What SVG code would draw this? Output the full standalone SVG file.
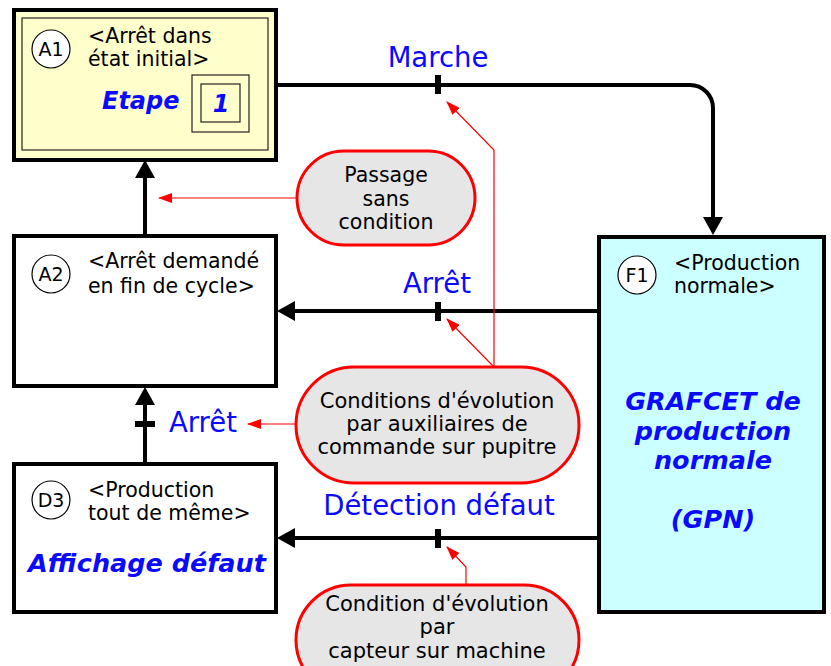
<svg xmlns="http://www.w3.org/2000/svg" width="831" height="666" viewBox="0 0 831 666">
  <style>
    .box { stroke: #000; stroke-width: 4; }
    .thin { fill: none; stroke: #222; stroke-width: 1.2; }
    .tag { fill: #fff; stroke: #000; stroke-width: 1.2; }
    .tagtxt { font-family: "DejaVu Sans", sans-serif; font-size: 19px; fill: #000; text-anchor: middle; }
    .txt { font-family: "DejaVu Sans", sans-serif; font-size: 20.5px; fill: #000; }
    .ctr { text-anchor: middle; }
    .act { font-family: "DejaVu Sans", sans-serif; font-size: 25.5px; font-weight: bold; font-style: italic; fill: #0a0aff; }
    .rec { font-family: "DejaVu Sans", sans-serif; font-size: 27.5px; fill: #0a0aff; text-anchor: middle; }
    .link { fill: none; stroke: #000; stroke-width: 4; }
    .bar { fill: #000; }
    .bubble { fill: #e6e6e6; stroke: #ff0000; stroke-width: 3; }
    .pointer { fill: none; stroke: #ff0000; stroke-width: 1.2; }
  </style>
  <defs>
    <marker id="arrow" viewBox="0 0 18 20" markerWidth="18" markerHeight="20" refX="8" refY="10" orient="auto" markerUnits="userSpaceOnUse">
      <path d="M0,0 L18,10 L0,20 z" fill="#000"/>
    </marker>
    <marker id="redArrow" viewBox="0 0 14 10" markerWidth="14" markerHeight="10" refX="13" refY="5" orient="auto" markerUnits="userSpaceOnUse">
      <path d="M0,0 L14,5 L0,10 z" fill="#ff0000"/>
    </marker>
  </defs>

  <!-- links between steps -->
  <g id="connectors">
    <path class="link" d="M277,85 H690 A23,23 0 0 1 713,108 V225" marker-end="url(#arrow)"/>
    <path class="link" d="M145,235 V170" marker-end="url(#arrow)"/>
    <path class="link" d="M145,462 V397" marker-end="url(#arrow)"/>
    <path class="link" d="M598,311 H287" marker-end="url(#arrow)"/>
    <path class="link" d="M598,538 H287" marker-end="url(#arrow)"/>
    <rect class="bar" x="435" y="75" width="6" height="19"/>
    <rect class="bar" x="435" y="302" width="6" height="19"/>
    <rect class="bar" x="435" y="529" width="6" height="19"/>
    <rect class="bar" x="135" y="421" width="20" height="6"/>
    <text class="rec" x="438" y="67">Marche</text>
    <text class="rec" x="437" y="293">Arrêt</text>
    <text class="rec" x="203" y="432">Arrêt</text>
    <text class="rec" x="439" y="515">Détection défaut</text>
    <!-- pointers from comments to receptivities -->
    <path class="pointer" d="M297,198 H159" marker-end="url(#redArrow)"/>
    <path class="pointer" d="M297,424 H248" marker-end="url(#redArrow)"/>
    <path class="pointer" d="M494,367 V150 L447,102" marker-end="url(#redArrow)"/>
    <path class="pointer" d="M494,367 L447,319" marker-end="url(#redArrow)"/>
    <path class="pointer" d="M466,585 V567 L447,547" marker-end="url(#redArrow)"/>
  </g>

  <!-- initial step A1 -->
  <g id="A1">
    <rect class="box" x="14" y="10" width="262" height="150" fill="#ffffcc"/>
    <rect class="thin" x="22" y="18" width="246" height="132"/>
    <circle class="tag" cx="51" cy="49" r="19"/>
    <text class="tagtxt" x="51" y="56">A1</text>
    <text class="txt" x="88" y="43">&lt;Arrêt dans</text>
    <text class="txt" x="88" y="66">état initial&gt;</text>
    <text class="act" x="102" y="109" style="font-size:24px">Etape</text>
    <rect class="thin" x="192" y="75" width="57" height="57"/>
    <rect class="thin" x="201" y="84" width="39" height="38" stroke="#000"/>
    <text class="act" x="221" y="112" text-anchor="middle" style="font-size:24px">1</text>
  </g>

  <!-- step A2 -->
  <g id="A2">
    <rect class="box" x="14" y="236" width="262" height="150" fill="#fff"/>
    <circle class="tag" cx="51" cy="274" r="19"/>
    <text class="tagtxt" x="51" y="281">A2</text>
    <text class="txt" x="88" y="268">&lt;Arrêt demandé</text>
    <text class="txt" x="88" y="293">en fin de cycle&gt;</text>
  </g>

  <!-- step D3 -->
  <g id="D3">
    <rect class="box" x="14" y="464" width="262" height="148" fill="#fff"/>
    <circle class="tag" cx="51" cy="500" r="19"/>
    <text class="tagtxt" x="51" y="507">D3</text>
    <text class="txt" x="88" y="497">&lt;Production</text>
    <text class="txt" x="88" y="520">tout de même&gt;</text>
    <text class="act" x="147" y="572" text-anchor="middle">Affichage défaut</text>
  </g>

  <!-- macro-step F1 -->
  <g id="F1">
    <rect class="box" x="599" y="237" width="225" height="375" fill="#ccffff"/>
    <circle class="tag" cx="637" cy="275" r="19"/>
    <text class="tagtxt" x="637" y="282">F1</text>
    <text class="txt" x="674" y="270">&lt;Production</text>
    <text class="txt" x="674" y="293">normale&gt;</text>
    <text class="act" x="713" y="410" text-anchor="middle">GRAFCET de</text>
    <text class="act" x="713" y="440" text-anchor="middle">production</text>
    <text class="act" x="713" y="469" text-anchor="middle">normale</text>
    <text class="act" x="713" y="528" text-anchor="middle">(GPN)</text>
  </g>

  <!-- comment bubbles -->
  <g id="note-passage">
    <rect class="bubble" x="297" y="151" width="178" height="94" rx="47"/>
    <text class="txt ctr" x="386" y="182">Passage</text>
    <text class="txt ctr" x="386" y="206">sans</text>
    <text class="txt ctr" x="386" y="229">condition</text>
  </g>
  <g id="note-pupitre">
    <rect class="bubble" x="296" y="367" width="283" height="116" rx="58"/>
    <text class="txt ctr" x="437" y="408" style="font-size:21px">Conditions d'évolution</text>
    <text class="txt ctr" x="437" y="431" style="font-size:21px">par auxiliaires de</text>
    <text class="txt ctr" x="437" y="454" style="font-size:21px">commande sur pupitre</text>
  </g>
  <g id="note-capteur">
    <rect class="bubble" x="296" y="585" width="283" height="110" rx="55"/>
    <text class="txt ctr" x="437" y="611" style="font-size:21px">Condition d'évolution</text>
    <text class="txt ctr" x="437" y="634" style="font-size:21px">par</text>
    <text class="txt ctr" x="437" y="658" style="font-size:21px">capteur sur machine</text>
  </g>
</svg>
